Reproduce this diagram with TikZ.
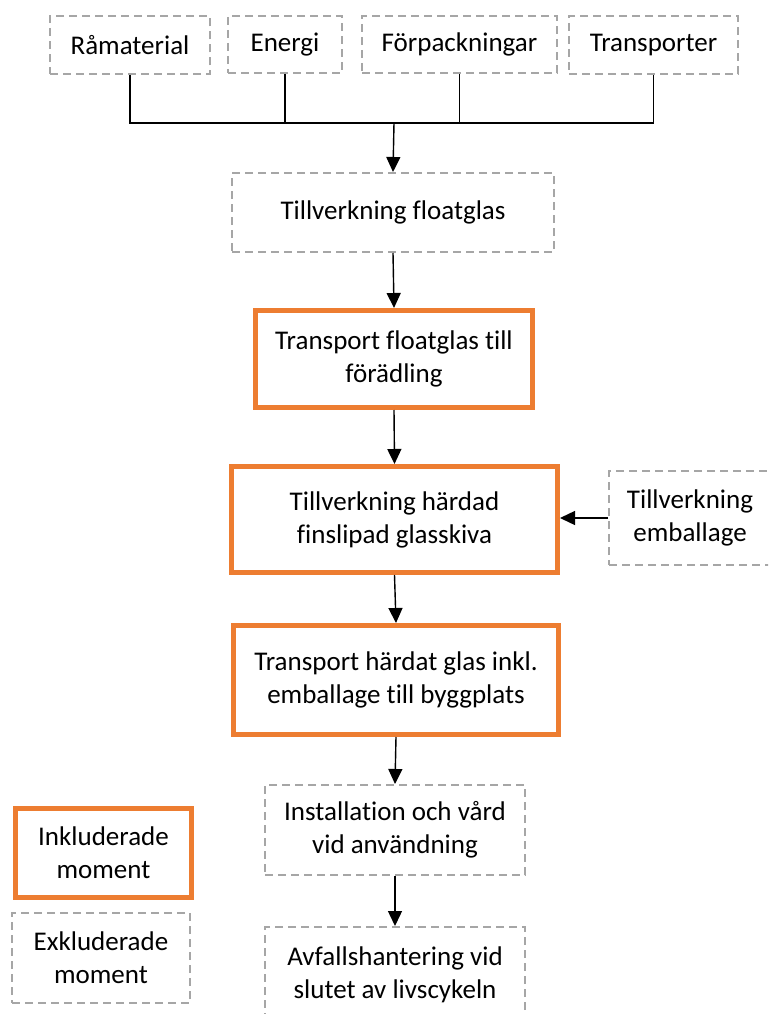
\documentclass[tikz,border=0pt]{standalone}
\usepackage{fontspec}
\setmainfont{Carlito}[Ligatures=CommonOff]
\usetikzlibrary{arrows.meta,calc}
\definecolor{boxorange}{HTML}{ED7D31}
\definecolor{boxgray}{HTML}{A6A6A6}
\tikzset{
  >={Triangle[length=15pt,width=14pt]},
  excl/.style={draw=boxgray,line width=2pt,dash pattern=on 8pt off 5pt,align=center,inner sep=2pt,font=\fontsize{27}{33}\selectfont},
  incl/.style={draw=boxorange,line width=5pt,align=center,inner sep=2pt,font=\fontsize{27}{33}\selectfont},
  every picture/.style={line width=1.4pt},
}
\begin{document}
\begin{tikzpicture}[x=1pt,y=-1pt]
\useasboundingbox (0,0) rectangle (768,1014);
\clip (0,0) rectangle (768,1014);
\node[excl,minimum width=160pt,minimum height=58pt] (ram) at (130,45.5){Råmaterial};
\node[excl,minimum width=114pt,minimum height=57pt] (ene) at (285,44.5){Energi};
\node[excl,minimum width=195pt,minimum height=57pt] (forp) at (459.5,44.5){Förpackningar};
\node[excl,minimum width=169pt,minimum height=58pt] (trp) at (653.5,45){Transporter};
\node[excl,minimum width=322pt,minimum height=79pt] (floa) at (393,212.5){Tillverkning floatglas};
\node[incl,minimum width=277pt,minimum height=97pt] (tf) at (394,359){Transport floatglas till\\förädling};
\node[incl,minimum width=326pt,minimum height=106pt] (th) at (394.5,519.5){Tillverkning härdad\\finslipad glasskiva};
\node[excl,minimum width=162pt,minimum height=94pt] (emb) at (690,518){Tillverkning\\emballage};
\node[incl,minimum width=325pt,minimum height=109pt] (tha) at (396,680){Transport härdat glas inkl.\\emballage till byggplats};
\node[excl,minimum width=260pt,minimum height=90pt] (inst) at (395,830){Installation och vård\\vid användning};
\node[excl,minimum width=260pt,minimum height=96pt] (avf) at (395,975){Avfallshantering vid\\slutet av livscykeln};
\node[incl,minimum width=176pt,minimum height=89pt] (li) at (103.5,853){Inkluderade\\moment};
\node[excl,minimum width=178pt,minimum height=90pt] (le) at (101,958){Exkluderade\\moment};
\coordinate (bus) at (394,123);
\draw (ram.south) |- (trp.south |- bus) -- (trp.south);
\draw (ene.south) -- (ene.south |- bus); \draw (forp.south) -- (forp.south |- bus);
\draw[->] (bus) -- (floa.north); \draw[->] (floa.south) -- (tf.north);
\draw[->] (tf.south) -- (th.north); \draw[->] (th.south) -- (tha.north);
\draw[->] (tha.south) -- (inst.north); \draw[->] (inst.south) -- (avf.north);
\draw[->] (emb.west) -- (emb.west -| th.east);
\end{tikzpicture}
\end{document}
